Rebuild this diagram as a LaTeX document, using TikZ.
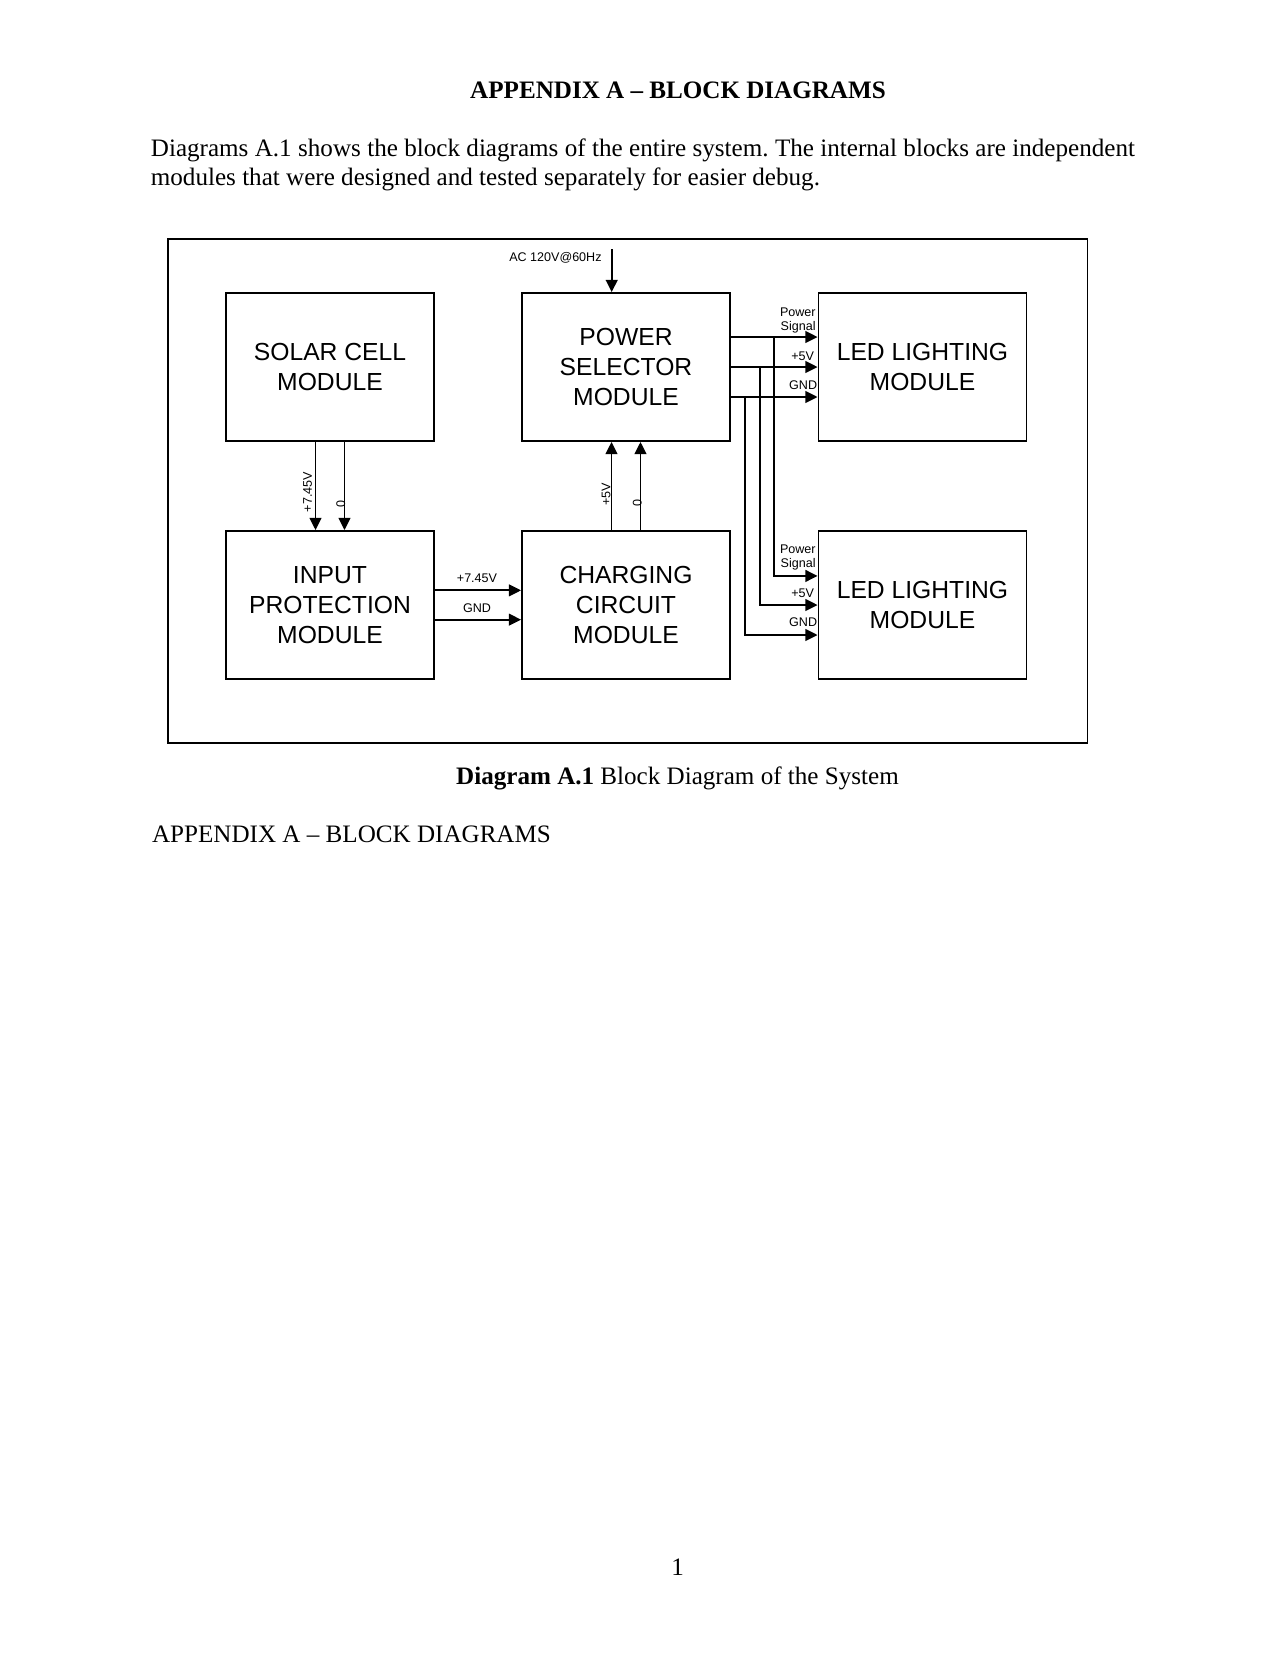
\documentclass[tikz,border=0pt]{standalone}
\usepackage{fontspec}
\setmainfont{Liberation Serif}
\newfontfamily\diagfont{Liberation Sans}
\usetikzlibrary{arrows.meta}
\frenchspacing
\begin{document}
\begin{tikzpicture}[x=0.478125pt,y=-0.478125pt,
  box/.style={draw,line width=0.9pt,minimum width=99.45pt,minimum height=70.76pt,inner sep=0pt,align=center,font=\diagfont\fontsize{11.8}{14.3}\selectfont},
  lbl/.style={inner sep=0pt,font=\diagfont\fontsize{6}{6.9}\selectfont},
  txt/.style={inner sep=0pt,font=\fontsize{12}{14}\selectfont},
  bigframe/.style={draw,line width=0.9pt,inner sep=0pt,minimum width=439.5pt,minimum height=241pt},
  arr/.style={line width=0.9pt,-{Triangle[length=5.8pt,width=5.6pt]}}]
\useasboundingbox (0,0) rectangle (1280,1656);
\fill[white] (0,0) rectangle (1280,1656);
% page text
\node[txt,anchor=base,font=\bfseries\fontsize{12}{14}\selectfont] (title) at (678,98.3) {APPENDIX A – BLOCK DIAGRAMS};
\node[txt,anchor=base west] (p1) at (150.5,156.7) {\hbox to 470.5pt{Diagrams A.1 shows the block diagrams of the entire system. The internal blocks are independent}};
\node[txt,anchor=base west] (p2) at (150.5,185) {modules that were designed and tested separately for easier debug.};
\node[txt,anchor=base] (caption) at (677.5,784.3) {\textbf{Diagram A.1} Block Diagram of the System};
\node[txt,anchor=base west] (foot) at (151.7,842.3) {APPENDIX A – BLOCK DIAGRAMS};
\node[txt,anchor=base] (pagenum) at (677.7,1575.7) {1};
% frame
\node[bigframe] (frame) at (627.9,491.3) {};
% boxes
\node[box] (solar) at (330,367) {SOLAR CELL\\MODULE};
\node[box] (power) at (626,367) {POWER\\SELECTOR\\MODULE};
\node[box] (led1) at (922.5,367) {LED LIGHTING\\MODULE};
\node[box] (input) at (330,605) {INPUT\\PROTECTION\\MODULE};
\node[box] (charging) at (626,605) {CHARGING\\CIRCUIT\\MODULE};
\node[box] (led2) at (922.5,605) {LED LIGHTING\\MODULE};
% AC input
\coordinate (ac) at (611.7,249);
\draw[arr] (ac) -- (ac |- power.north);
\node[lbl,anchor=east] (aclbl) at (602,257.7) {AC 120V@60Hz};
% solar -> input
\draw[arr] ([xshift=-6.93pt]solar.south) -- ([xshift=-6.93pt]input.north);
\draw[arr] ([xshift=6.93pt]solar.south) -- ([xshift=6.93pt]input.north);
\node[lbl,rotate=90] (sv) at (307.5,492) {+7.45V};
\node[lbl,rotate=90] (sg) at (340.7,504) {0};
% charging -> power
\draw[arr] ([xshift=-6.93pt]charging.north) -- ([xshift=-6.93pt]power.south);
\draw[arr] ([xshift=6.93pt]charging.north) -- ([xshift=6.93pt]power.south);
\node[lbl,rotate=90] (cv) at (606,494) {+5V};
\node[lbl,rotate=90] (cg) at (637.3,503.3) {0};
% input -> charging
\draw[arr] ([yshift=7pt]input.east) -- ([yshift=7pt]charging.west);
\draw[arr] ([yshift=-7pt]input.east) -- ([yshift=-7pt]charging.west);
\node[lbl] (iv) at (477,578) {+7.45V};
\node[lbl] (ig) at (477,607.7) {GND};
% power -> LEDs
\coordinate (ps) at ([yshift=14.34pt]power.east);
\coordinate (p5) at (power.east);
\coordinate (pg) at ([yshift=-14.34pt]power.east);
\coordinate (qs) at ([yshift=13.9pt]led2.west);
\coordinate (q5) at (led2.west);
\coordinate (qg) at ([yshift=-14.34pt]led2.west);
\coordinate (xs) at (774.3,0);
\coordinate (x5) at (760,0);
\coordinate (xg) at (745,0);
\draw[arr] (ps) -- (ps -| led1.west);
\draw[arr] (p5) -- (p5 -| led1.west);
\draw[arr] (pg) -- (pg -| led1.west);
\draw[arr] (xs |- ps) |- (qs);
\draw[arr] (x5 |- p5) |- (q5);
\draw[arr] (xg |- pg) |- (qg);
\node[lbl,anchor=east,align=right] (a1) at (816,320.5) {Power\\Signal};
\node[lbl,anchor=east] (a2) at (814.5,356) {+5V};
\node[lbl,anchor=east] (a3) at (817.5,385) {GND};
\node[lbl,anchor=east,align=right] (b1) at (816,557.5) {Power\\Signal};
\node[lbl,anchor=east] (b2) at (814.5,593) {+5V};
\node[lbl,anchor=east] (b3) at (817.5,622) {GND};
\end{tikzpicture}
\end{document}
